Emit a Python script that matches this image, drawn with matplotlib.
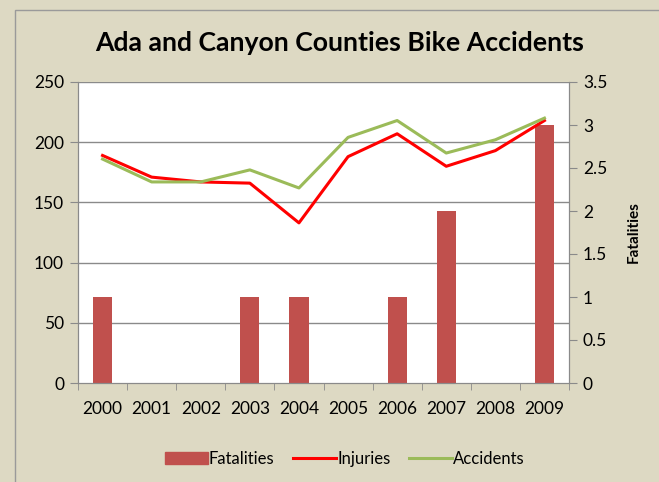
import matplotlib.pyplot as plt
import matplotlib.patches as mpatches
import numpy as np

years = ['2000', '2001', '2002', '2003', '2004', '2005', '2006', '2007', '2008', '2009']
fatalities = [1, 0, 0, 1, 1, 0, 1, 2, 0, 3]
injuries = [189, 171, 167, 166, 133, 188, 207, 180, 193, 218]
accidents = [186, 167, 167, 177, 162, 204, 218, 191, 202, 220]

bg = '#DDD9C3'
grid_col = '#8a8a8a'
plt.rcParams['font.family'] = ['Lato', 'DejaVu Sans']

fig = plt.figure(figsize=(6.59, 4.82), dpi=100)
fig.patch.set_facecolor(bg)
# chart frame (runs off the right/bottom of the picture)
fig.patches.append(mpatches.Rectangle((15 / 659, -0.1), 1.2, 1 - 10 / 482 + 0.1,
                                      transform=fig.transFigure, fill=False,
                                      edgecolor='#9a9a9a', lw=1.0))

ax = fig.add_axes([78 / 659, 1 - 383 / 482, 491 / 659, 301 / 482])
ax2 = ax.twinx()
x = np.arange(len(years))

# bars on secondary axis, lines on primary
ax2.patch.set_facecolor('white')
ax2.patch.set_visible(True)
for v in [50, 100, 150, 200, 250]:
    ax2.axhline(v * 3.5 / 250, color=grid_col, lw=1, zorder=1)
ax2.bar(x, fatalities, width=0.39, color='#C0504D', zorder=2)
ax2.set_ylim(0, 3.5)
ax2.set_yticks([0, 0.5, 1, 1.5, 2, 2.5, 3, 3.5])
ax2.set_yticklabels(['0', '0.5', '1', '1.5', '2', '2.5', '3', '3.5'])
ax2.set_ylabel('Fatalities', fontsize=11, fontweight='bold', labelpad=14)

ax.set_zorder(ax2.get_zorder() + 1)
ax.patch.set_visible(False)
ax.plot(x, injuries, color='#FF0000', lw=2.2, label='Injuries', zorder=3)
ax.plot(x, accidents, color='#9BBB59', lw=2.2, label='Accidents', zorder=3)
ax.set_ylim(0, 250)
ax.set_yticks([0, 50, 100, 150, 200, 250])
ax.set_xlim(-0.5, 9.5)

ax.set_xticks(x)
ax.set_xticklabels(years)
ax.set_xticks(np.arange(-0.5, 10, 1), minor=True)
ax.tick_params(axis='x', which='major', length=0, pad=13, labelsize=12.5)
ax.tick_params(axis='x', which='minor', length=5, color=grid_col)
ax.tick_params(axis='y', length=6, color=grid_col, labelsize=12.5, pad=4)
ax2.tick_params(axis='y', length=6, color=grid_col, labelsize=12.5, pad=4)

for a in (ax, ax2):
    a.spines['top'].set_visible(False)
    for s in ('left', 'right', 'bottom'):
        a.spines[s].set_color(grid_col)

fig.text(0.516, 1 - 43 / 482, 'Ada and Canyon Counties Bike Accidents',
         ha='center', va='center', fontsize=19.2, fontweight='bold')

handles = [mpatches.Patch(color='#C0504D', label='Fatalities'),
           plt.Line2D([], [], color='#FF0000', lw=2.2, label='Injuries'),
           plt.Line2D([], [], color='#9BBB59', lw=2.2, label='Accidents')]
fig.legend(handles=handles, loc='center', bbox_to_anchor=(0.523, 1 - 459 / 482),
           ncol=3, frameon=False, fontsize=12, handlelength=2.6,
           handletextpad=0.05, columnspacing=1.1)

fig.savefig('out.png', dpi=100, facecolor=bg)
